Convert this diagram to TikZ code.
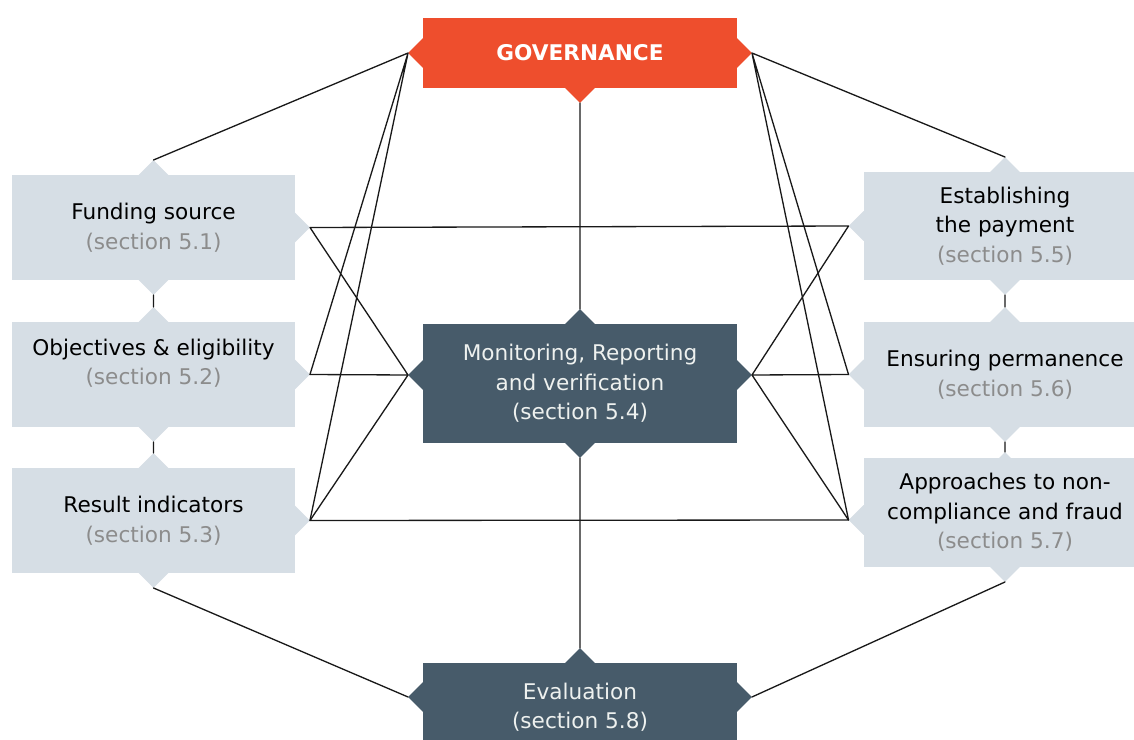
\documentclass[tikz,border=0pt]{standalone}
\usepackage{fontspec}
\setmainfont{DejaVu Sans}
\usetikzlibrary{positioning,shapes.geometric}
\definecolor{govred}{HTML}{EE4E2D}
\definecolor{slate}{HTML}{475B6A}
\definecolor{pale}{HTML}{D6DEE5}
\definecolor{secgrey}{HTML}{8C8C8C}
\definecolor{offwhite}{HTML}{EEF1EF}
\pgfdeclarelayer{back}
\pgfsetlayers{back,main}
\newcommand\boxfont{\fontsize{12.3}{16.8}\selectfont}
\newcommand\sect[1]{{\color{secgrey}(section #1)}}
% diamond tabs on the sides of a box: name, list of anchor/shift, fill
\newcommand\tabs[3]{\foreach \a/\s in {#2}
  \node[tab,fill=#3] (#1-\a) at ([yshift=\s]#1.\a) {};}
\tikzset{
  topic/.style={rectangle,fill=pale,text=black,align=center,inner sep=0pt,
                outer sep=0pt,minimum width=5.66cm,font=\boxfont},
  hub/.style={rectangle,fill=slate,text=offwhite,align=center,inner sep=0pt,
              outer sep=0pt,minimum width=6.28cm,font=\boxfont},
  govbox/.style={hub,fill=govred,text=white,minimum height=1.4cm,
                 font=\boxfont\bfseries},
  tab/.style={diamond,inner sep=0pt,outer sep=0pt,minimum width=6mm,
              minimum height=6mm},
  link/.style={line width=0.75pt,black!90},
  every picture/.style={line cap=round,line join=round}}

\begin{document}
\begin{tikzpicture}[x=0.02cm,y=-0.02cm]
  \useasboundingbox (0,0) rectangle (1134,740);
  \clip (0,0) rectangle (1134,740);

  % centre column
  \node[govbox] (gov) at (580,53) {GOVERNANCE};
  \node[hub,minimum height=2.38cm] (mrv) at (580,383.5)
    {Monitoring, Reporting\\and verification\\(section 5.4)};
  \node[hub,minimum height=1.76cm] (eval) at (580,707)
    {Evaluation\\(section 5.8)};

  % left column
  \node[topic,minimum height=2.1cm] (fund) at (153.5,227.5)
    {Funding source\\\sect{5.1}};
  \node[topic,minimum height=2.1cm] (obj) at (153.5,374.5) {};
  \node[align=center,font=\boxfont,inner sep=0pt] (obj-txt) at (153.5,363)
    {Objectives \& eligibility\\\sect{5.2}};
  \node[topic,minimum height=2.1cm] (res) at (153.5,520.5)
    {Result indicators\\\sect{5.3}};

  % right column
  \node[topic,minimum height=2.16cm] (pay) at (1005,226)
    {Establishing\\the payment\\\sect{5.5}};
  \node[topic,minimum height=2.1cm] (perm) at (1005,374.5)
    {Ensuring permanence\\\sect{5.6}};
  \node[topic,minimum height=2.18cm] (fraud) at (1005,512.5)
    {Approaches to non-\\compliance and fraud\\\sect{5.7}};

  \begin{pgfonlayer}{back}
    \tabs{gov}{west/0pt,east/0pt,south/0pt}{govred}
    \tabs{mrv}{north/0pt,south/0pt,west/0.17cm,east/0.17cm}{slate}
    \tabs{eval}{north/0pt,west/0.2cm,east/0.2cm}{slate}
    \tabs{fund}{north/0pt,east/0pt,south/0pt}{pale}
    \tabs{obj}{north/0pt,east/0pt,south/0pt}{pale}
    \tabs{res}{north/0pt,east/0pt,south/0pt}{pale}
    \tabs{pay}{north/0pt,west/0pt,south/0pt}{pale}
    \tabs{perm}{north/0pt,west/0pt,south/0pt}{pale}
    \tabs{fraud}{north/-0.18cm,west/-0.15cm,south/0pt}{pale}
  \end{pgfonlayer}

  % links
  \draw[link] (gov-west.west) -- (fund-north.north)
    (gov-west.west) -- (obj-east.east)
    (gov-west.west) -- (res-east.east)
    (gov-east.east) -- (pay-north.north)
    (gov-east.east) -- (perm-west.west)
    (gov-east.east) -- (fraud-west.west)
    (gov-south.south) -- (mrv-north.north)
    (mrv-south.south) -- (eval-north.north);
  \draw[link] (fund-east.east) -- (pay-west.west)
    (fund-east.east) -- (mrv-west.west)
    (obj-east.east) -- (mrv-west.west)
    (res-east.east) -- (mrv-west.west)
    (res-east.east) -- (fraud-west.west)
    (mrv-east.east) -- (pay-west.west)
    (mrv-east.east) -- (perm-west.west)
    (mrv-east.east) -- (fraud-west.west);
  \draw[link] (fund-south.south) -- (obj-north.north)
    (obj-south.south) -- (res-north.north)
    (pay-south.south) -- (perm-north.north)
    (perm-south.south) -- (fraud-north.north)
    (res-south.south) -- (eval-west.west)
    (fraud-south.south) -- (eval-east.east);
\end{tikzpicture}
\end{document}
